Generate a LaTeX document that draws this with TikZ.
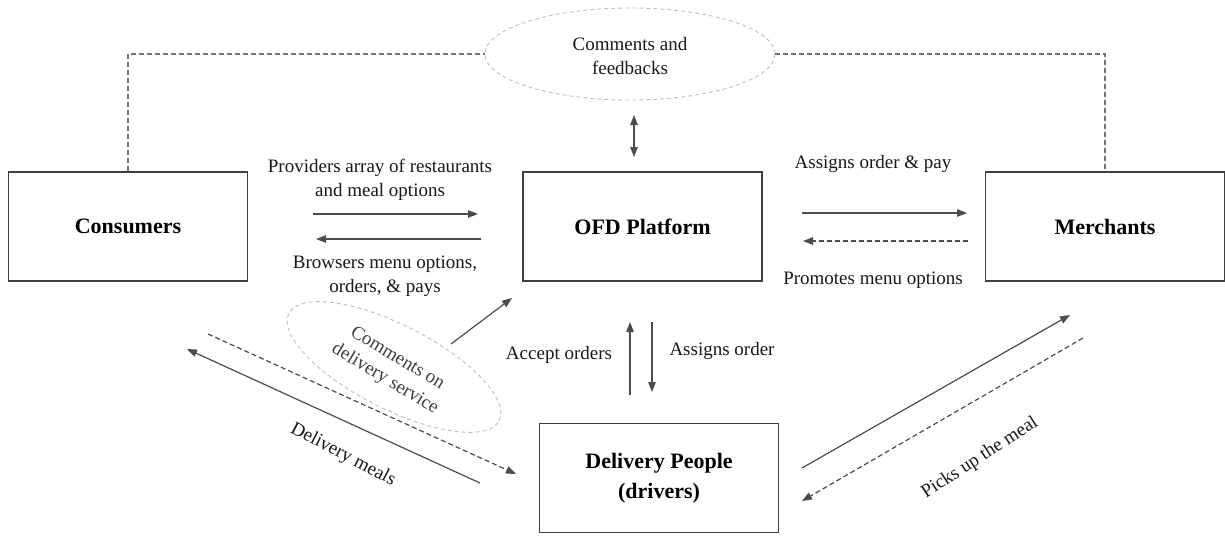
\documentclass[tikz,border=0pt]{standalone}
\usepackage{fontspec}
\setmainfont{Liberation Serif}
\usetikzlibrary{arrows.meta,shapes.geometric}
\begin{document}
\begin{tikzpicture}[x=1pt,y=-1pt,
  box/.style={draw=black!75, line width=1.1pt, minimum width=239pt, minimum height=109pt,
    font=\fontsize{22}{30}\selectfont\bfseries, align=center, inner sep=0pt},
  lbl/.style={font=\fontsize{19}{24}\selectfont, align=center, inner sep=0pt, text=black!90},
  conn/.style={draw=black!70, line width=1.2pt, -{Triangle[length=10pt,width=7.5pt]}},
  dconn/.style={conn, dash pattern=on 5pt off 3pt},
  bubble/.style={ellipse, draw=black!25, dash pattern=on 4pt off 3pt, line width=0.9pt, inner sep=0pt},
  link/.style={draw=black!55, line width=1.1pt, dash pattern=on 5pt off 3pt}
]
\useasboundingbox[fill=white] (0,0) rectangle (1225,536);

% boxes
\node[box] (cons)  at (128,226.5) {Consumers};
\node[box] (ofd)   at (642.5,226.5) {OFD Platform};
\node[box] (merch) at (1105,226.5) {Merchants};
\node[box] (del)   at (659,478) {Delivery People\\(drivers)};

% feedback bubble
\node[bubble, minimum width=290pt, minimum height=92pt] (fb) at (630,54) {};
\node[lbl] (fbt) at (630,55.5) {Comments and\\feedbacks};

% delivery comment bubble
\node[bubble, minimum width=236pt, minimum height=84pt, rotate=-27] (cd) at (394,367) {};
\node[lbl, text=black!75, rotate=-31] (cdt) at (391,369) {Comments on\\delivery service};

% dashed links to feedback bubble
\draw[link] (cons.north) |- (fb.west);
\draw[link] (fb.east) -| (merch.north);

% coordinates of free arrow ends
\coordinate (fbA) at (634,115);
\coordinate (fbB) at (634,157);
\coordinate (c1s) at (313,214);
\coordinate (c1e) at (478,214);
\coordinate (c2s) at (481,239);
\coordinate (c2e) at (316,239);
\coordinate (m1s) at (802,213);
\coordinate (m1e) at (967,213);
\coordinate (m2s) at (968,241);
\coordinate (m2e) at (803,241);
\coordinate (u1s) at (630,395);
\coordinate (u1e) at (630,322);
\coordinate (d1s) at (652,322);
\coordinate (d1e) at (652,392);
\coordinate (g1s) at (451,344);
\coordinate (g1e) at (512,298);
\coordinate (l1s) at (480,483);
\coordinate (l1e) at (187,349);
\coordinate (l2s) at (208,334);
\coordinate (l2e) at (516,474);
\coordinate (r1s) at (802,468);
\coordinate (r1e) at (1070,315);
\coordinate (r2s) at (1083,338);
\coordinate (r2e) at (802,501);

% connectors
\draw[conn, {Triangle[length=10pt,width=7.5pt]}-{Triangle[length=10pt,width=7.5pt]}] (fbA) -- (fbB);
\draw[conn] (c1s) -- (c1e);
\draw[conn] (c2s) -- (c2e);
\draw[conn] (m1s) -- (m1e);
\draw[dconn] (m2s) -- (m2e);
\draw[conn] (u1s) -- (u1e);
\draw[conn] (d1s) -- (d1e);
\draw[conn] (g1s) -- (g1e);
\draw[conn] (l1s) -- (l1e);
\draw[dconn] (l2s) -- (l2e);
\draw[conn] (r1s) -- (r1e);
\draw[dconn] (r2s) -- (r2e);

% labels
\node[lbl] (t1) at (380,179.5) {Providers array of restaurants\\and meal options};
\node[lbl] (t2) at (385,276.5) {Browsers menu options,\\orders, \& pays};
\node[lbl] (t3) at (873,164) {Assigns order \& pay};
\node[lbl] (t4) at (873,280) {Promotes menu options};
\node[lbl] (t5) at (559,355) {Accept orders};
\node[lbl] (t6) at (722,351) {Assigns order};
\node[lbl, rotate=-27.6] (t7) at (343,455) {Delivery meals};
\node[lbl, rotate=33] (t8) at (980,458) {Picks up the meal};
\end{tikzpicture}
\end{document}
